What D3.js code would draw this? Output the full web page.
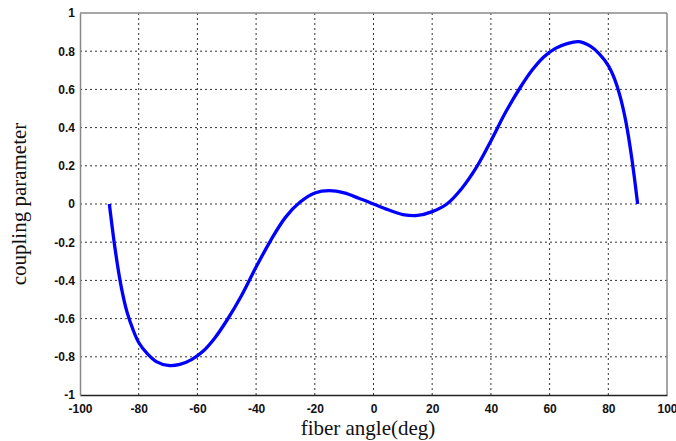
<!DOCTYPE html>
<html><head><meta charset="utf-8">
<script src="https://cdn.jsdelivr.net/npm/d3@7"></script>
<style>body{margin:0;background:#fff}</style>
</head><body>
<svg id="c" width="676" height="441"></svg>
<script>
const angles = [-90,-88,-86,-84,-82,-80,-77,-74,-70,-66,-62,-58,-54,-50,-45,-40,-35,-30,-25,-20,-15,-10,-5,0,5,10,15,20,25,30,35,40,45,50,54,58,62,66,70,74,77,80,82,84,86,88,90];
const coupling = [0,-0.24,-0.43,-0.565,-0.655,-0.725,-0.785,-0.825,-0.845,-0.84,-0.815,-0.77,-0.70,-0.61,-0.48,-0.33,-0.19,-0.07,0.01,0.058,0.07,0.058,0.03,0.0,-0.03,-0.055,-0.06,-0.04,0.0,0.08,0.19,0.33,0.48,0.61,0.70,0.77,0.815,0.84,0.85,0.825,0.785,0.725,0.66,0.565,0.43,0.24,0];
const xTicks = [-100,-80,-60,-40,-20,0,20,40,60,80,100];
const yTicks = [-1,-0.8,-0.6,-0.4,-0.2,0,0.2,0.4,0.6,0.8,1];
const xTitle = "fiber angle(deg)";
const yTitle = "coupling parameter";

const L=80,R=667,T=13,B=395;
const svg=d3.select("#c");
const x=d3.scaleLinear().domain([-100,100]).range([L,R]);
const y=d3.scaleLinear().domain([-1,1]).range([B,T]);
const fmt=d=>String(+(+d).toFixed(1)).replace("\u2212","-");

// grid
const g=svg.append("g");
g.selectAll("line.gx").data(xTicks.filter(d=>d>-100&&d<100)).join("line")
 .attr("x1",d=>x(d)).attr("x2",d=>x(d)).attr("y1",T).attr("y2",B)
 .attr("stroke","#000").attr("stroke-width",1).attr("stroke-dasharray","2,3").attr("opacity",0.8);
g.selectAll("line.gy").data(yTicks.filter(d=>d>-1&&d<1)).join("line")
 .attr("y1",d=>y(d)).attr("y2",d=>y(d)).attr("x1",L).attr("x2",R)
 .attr("stroke","#000").attr("stroke-width",1).attr("stroke-dasharray","2,3").attr("opacity",0.8);

// frame
svg.append("line").attr("x1",L).attr("x2",R).attr("y1",T).attr("y2",T).attr("stroke","#888").attr("stroke-width",1.5);
svg.append("line").attr("x1",R).attr("x2",R).attr("y1",T).attr("y2",B).attr("stroke","#888").attr("stroke-width",1.5);

// axes
const xa=svg.append("g").attr("transform",`translate(0,${B})`)
 .call(d3.axisBottom(x).tickValues(xTicks).tickSize(0).tickPadding(9).tickFormat(fmt));
xa.select(".domain").attr("stroke","#222").attr("stroke-width",1.5);
xa.selectAll("text").attr("font-family","Liberation Sans, Arial, sans-serif").attr("font-weight","bold").attr("font-size",12).attr("fill","#111");
const ya=svg.append("g").attr("transform",`translate(${L},0)`)
 .call(d3.axisLeft(y).tickValues(yTicks).tickSize(0).tickPadding(5).tickFormat(fmt));
ya.select(".domain").attr("stroke","#888").attr("stroke-width",1.5);
ya.selectAll("text").attr("font-family","Liberation Sans, Arial, sans-serif").attr("font-weight","bold").attr("font-size",12).attr("fill","#111");

// curve
const pts=angles.map((a,i)=>[a,coupling[i]]);
svg.append("path").datum(pts)
 .attr("d",d3.line().x(d=>x(d[0])).y(d=>y(d[1])).curve(d3.curveCatmullRom))
 .attr("fill","none").attr("stroke","#0000ff").attr("stroke-width",3.3).attr("stroke-linejoin","round");

// titles
svg.append("text").attr("x",368).attr("y",435).attr("text-anchor","middle")
 .attr("font-family","Liberation Serif, Times New Roman, serif").attr("font-size",21).attr("fill","#111").text(xTitle);
svg.append("text").attr("transform","translate(26,204) rotate(-90)").attr("text-anchor","middle")
 .attr("font-family","Liberation Serif, Times New Roman, serif").attr("font-size",21).attr("fill","#111").text(yTitle);
</script>
</body></html>
